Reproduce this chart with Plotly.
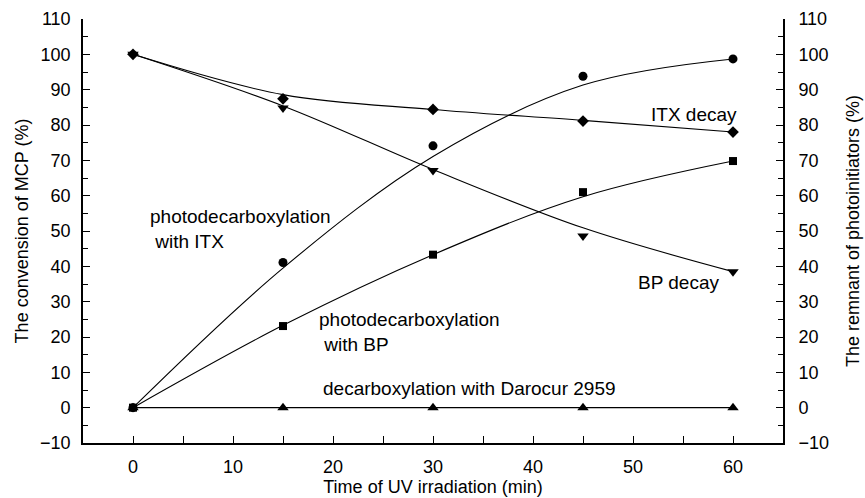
import plotly.graph_objects as go

# ---- data ----
time_min = [0, 15, 30, 45, 60]

# conversion of MCP (%), left axis
conv_itx = [0, 41.1, 74.1, 93.8, 98.7]
conv_bp = [0, 23.1, 43.3, 61.0, 69.8]
conv_darocur = [0, 0, 0, 0, 0]

# remnant of photoinitiators (%), right axis
itx_decay = [100, 87.4, 84.4, 81.1, 78.0]
bp_decay = [100, 84.8, 67.1, 48.6, 38.5]

# fitted curves as drawn in the reference
fit_conv_itx = [0, 39.5, 71.1, 91.3, 98.7]
fit_conv_bp = [0, 23.3, 43.3, 59.7, 69.8]
fit_conv_darocur = [0, 0, 0, 0, 0]
fit_itx_decay = [100, 88.6, 84.4, 81.3, 78.0]
fit_bp_decay = [100, 85.4, 67.4, 50.9, 38.5]

x_ticks = [0, 10, 20, 30, 40, 50, 60]
y_ticks = [-10, 0, 10, 20, 30, 40, 50, 60, 70, 80, 90, 100, 110]

FONT = "Arial, Liberation Sans, sans-serif"
FS = 18

fig = go.Figure()

line_style = dict(color="black", width=1.1, shape="spline", smoothing=1.0)

for fy, ax in [(fit_conv_itx, "y"), (fit_conv_bp, "y"), (fit_conv_darocur, "y"),
               (fit_itx_decay, "y2"), (fit_bp_decay, "y2")]:
    fig.add_trace(go.Scatter(x=time_min, y=fy, mode="lines", line=line_style,
                             yaxis=ax, showlegend=False, hoverinfo="skip"))

markers = [
    (conv_itx, "circle", 9, "y"),
    (conv_bp, "square", 8, "y"),
    (conv_darocur, "triangle-up", 10, "y"),
    (itx_decay, "diamond", 9, "y2"),
    (bp_decay, "triangle-down", 10, "y2"),
]
for vals, sym, sz, ax in markers:
    fig.add_trace(go.Scatter(x=time_min, y=vals, mode="markers",
                             marker=dict(symbol=sym, size=sz, color="black",
                                         line=dict(width=0)),
                             yaxis=ax, showlegend=False))

ann_font = dict(family=FONT, size=19, color="black")
annots = [
    (1.47, 50.6, "photodecarboxylation<br>&nbsp;with ITX"),
    (18.4, 21.5, "photodecarboxylation<br>&nbsp;with BP"),
    (18.8, 5.3, "decarboxylation with Darocur 2959"),
    (51.6, 82.9, "ITX decay"),
    (50.3, 35.4, "BP decay"),
]
for ax_, ay_, t in annots:
    fig.add_annotation(x=ax_, y=ay_, xref="x", yref="y", text=t, showarrow=False,
                       xanchor="left", yanchor="middle", align="left", font=ann_font)

axis_common = dict(showline=True, linecolor="black", linewidth=1.6, showgrid=False,
                   zeroline=False, ticks="inside", tickcolor="black", tickwidth=1.3,
                   automargin=False,
                   tickfont=dict(family=FONT, size=FS, color="black"))

fig.update_layout(
    width=865, height=498,
    margin=dict(l=83, r=82, t=19, b=55),
    paper_bgcolor="white", plot_bgcolor="white",
    font=dict(family=FONT, size=FS, color="black"),
    xaxis=dict(range=[-5, 65], tickvals=x_ticks, ticklen=7,
               minor=dict(dtick=5, tick0=0, ticks="inside", ticklen=7, tickcolor="black", tickwidth=1.3),
               title=dict(text="Time of UV irradiation (min)", font=dict(family=FONT, size=FS), standoff=2),
               ticklabelstandoff=7,
               **axis_common),
    yaxis=dict(range=[-10, 110], tickvals=y_ticks, ticklen=7,
               minor=dict(dtick=5, tick0=0, ticks="inside", ticklen=5, tickcolor="black", tickwidth=1.3),
               title=dict(text="The convension of MCP (%)", font=dict(family=FONT, size=FS), standoff=7),
               ticklabelstandoff=7,
               **axis_common),
    yaxis2=dict(range=[-10, 110], tickvals=y_ticks, ticklen=7, overlaying="y", side="right",
                minor=dict(dtick=5, tick0=0, ticks="inside", ticklen=5, tickcolor="black", tickwidth=1.3),
                title=dict(text="The remnant of photoinitiators (%)", font=dict(family=FONT, size=FS), standoff=18),
                ticklabelstandoff=10,
                **axis_common),
)

fig.write_html("out.html")
